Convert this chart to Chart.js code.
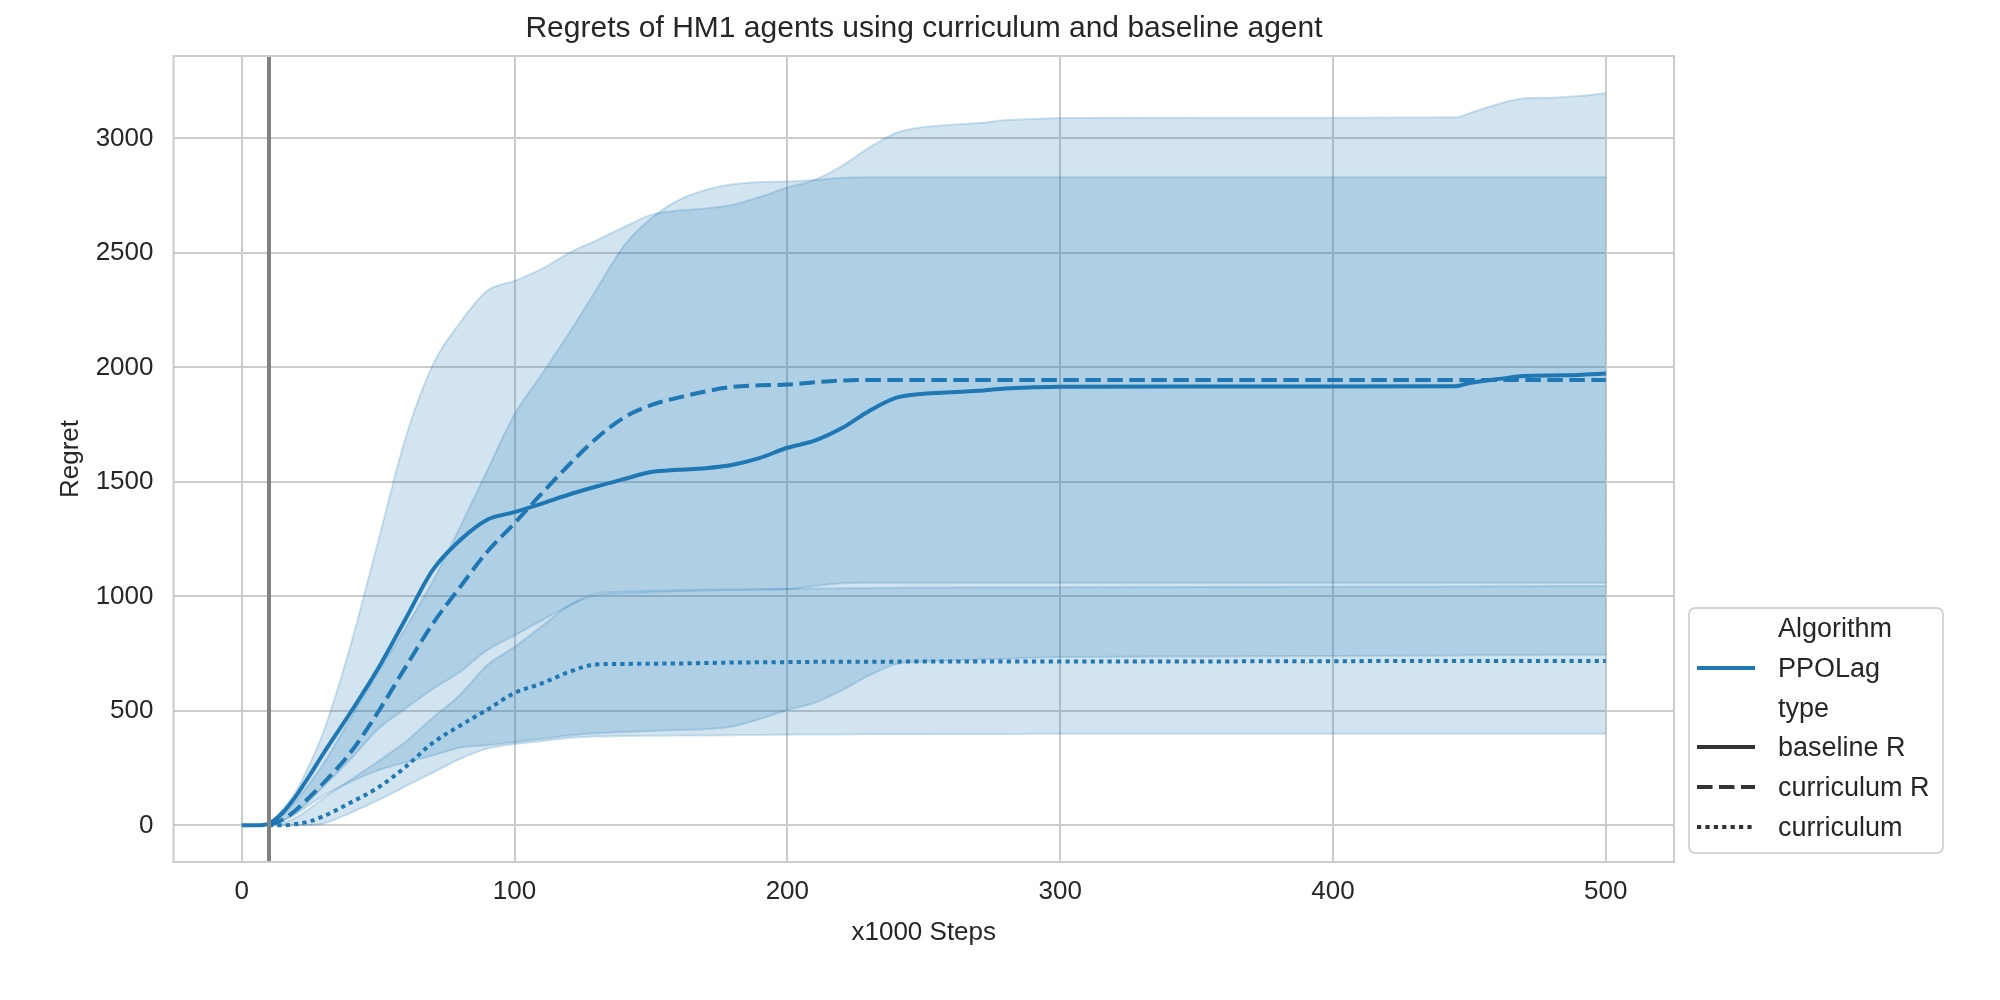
<!DOCTYPE html>
<html>
<head>
<meta charset="utf-8">
<script src="https://cdn.jsdelivr.net/npm/chart.js@4.4.0/dist/chart.umd.min.js"></script>
<style>
  body{margin:0;background:#fff;font-family:"Liberation Sans",Arial,sans-serif;}
  #wrap{position:relative;width:2000px;height:1000px;}
  #title{position:absolute;left:924px;top:27px;transform:translate(-50%,-50%);font-size:30px;color:#262626;white-space:nowrap;}
  #legend{position:absolute;left:1688px;top:607px;width:256px;height:247px;box-sizing:border-box;border:2px solid #d4d4d4;border-radius:7px;background:rgba(255,255,255,.8);}
  .row{position:absolute;left:0;width:100%;height:40px;transform:translateY(-50%);}
  .row svg{position:absolute;left:7px;top:15px;}
  .row span{position:absolute;left:88px;top:50%;transform:translateY(-50%);font-size:27px;color:#262626;white-space:nowrap;}
</style>
</head>
<body>
<div id="wrap">
  <canvas id="chart" width="2000" height="1000"></canvas>
  <div id="title">Regrets of HM1 agents using curriculum and baseline agent</div>
  <div id="legend"></div>
</div>
<script>
// x positions (x1000 steps)
const steps = [0,5,10,15,20,25,30,40,50,60,70,80,90,100,110,120,130,140,150,160,170,180,190,200,210,220,230,240,250,260,270,280,290,300,350,400,445,450,460,470,480,490,500];

// baseline R (solid) mean and band
const baselineR     = [0,0,8,55,130,220,315,495,685,900,1115,1245,1335,1368,1405,1445,1480,1512,1543,1553,1560,1575,1605,1649,1680,1735,1810,1868,1885,1891,1898,1908,1913,1916,1917,1917,1918,1932,1948,1962,1965,1967,1973];
const baselineRLow  = [0,0,5,20,50,90,130,190,240,275,305,340,350,364,378,392,402,408,412,416,420,432,465,503,535,590,655,705,716,720,724,728,732,735,738,740,742,743,744,744,745,745,745];
const baselineRHigh = [0,0,10,70,150,270,410,790,1240,1690,2010,2195,2335,2378,2430,2500,2555,2612,2666,2685,2694,2710,2745,2786,2819,2880,2960,3025,3050,3060,3067,3080,3085,3089,3090,3090,3092,3110,3148,3175,3178,3185,3198];

// curriculum R (dashed) mean and band
const curriculumR     = [null,null,2,25,68,125,185,320,495,690,880,1040,1195,1320,1450,1575,1690,1780,1835,1868,1895,1915,1922,1925,1935,1943,1945,1945,1945,1945,1945,1945,1945,1945,1945,1945,1945,1945,1945,1945,1945,1945,1945];
const curriculumRLow  = [null,null,0,20,55,110,170,290,420,510,595,670,765,830,895,960,1012,1020,1024,1027,1029,1030,1031,1032,1045,1057,1060,1060,1060,1060,1060,1060,1060,1060,1060,1060,1060,1060,1060,1060,1060,1060,1060];
const curriculumRHigh = [null,null,5,45,110,185,270,470,670,862,1065,1302,1550,1795,1970,2150,2340,2530,2650,2730,2775,2800,2810,2812,2818,2828,2830,2830,2830,2830,2830,2830,2830,2830,2830,2830,2830,2830,2830,2830,2830,2830,2830];

// curriculum (dotted) mean and band
const curriculum     = [null,null,0,0,6,18,40,100,165,255,360,435,505,578,620,670,703,705,706,707,709,711,712,713,714,714,715,715,716,716,716,716,716,716,716,717,718,718,718,718,718,718,718];
const curriculumLow  = [null,null,0,0,0,2,8,55,110,170,230,290,335,355,368,382,388,390,391,392,393,394,395,396,397,397,398,398,398,399,399,399,400,400,400,400,400,400,400,400,400,400,400];
const curriculumHigh = [null,null,0,10,35,75,120,200,280,365,470,570,700,780,870,960,1005,1015,1020,1023,1026,1028,1030,1032,1034,1036,1037,1038,1039,1039,1040,1040,1040,1040,1041,1042,1043,1043,1044,1044,1045,1045,1045];

const xTicks = [0,100,200,300,400,500];
const yTicks = [0,500,1000,1500,2000,2500,3000];
const xRange = [-25,525];
const yRange = [-160,3360];
const markerStep = 10;

const seriesNames = ['baseline R','curriculum R','curriculum'];
const legendTitles = ['Algorithm','type'];
const algorithmName = 'PPOLag';

const FONT = '"Liberation Sans", Arial, sans-serif';
const INK = '#262626';
const BLUE = '#1f77b4';
const BAND = 'rgba(31,119,180,0.2)';
const dashes = [[], [15.5,6.5], [4.2,4.2]];

const pts = arr => steps.map((x,i)=>({x, y: arr[i]}));

const mean = (label, arr, dash, order) => ({
  label, data: pts(arr), borderColor: BLUE, borderWidth: 4, borderDash: dash,
  pointRadius: 0, fill: false, cubicInterpolationMode: 'monotone', order
});
const edge = (arr, fillTo, order) => ({
  data: pts(arr), borderColor: BAND, borderWidth: 2, pointRadius: 0,
  backgroundColor: BAND, fill: fillTo === null ? false : fillTo,
  cubicInterpolationMode: 'monotone', order
});

const datasets = [
  {label:'start', data:[{x:markerStep,y:yRange[0]},{x:markerStep,y:yRange[1]}], borderColor:'#808080', borderWidth:4, pointRadius:0, order:0},
  mean(seriesNames[0], baselineR, dashes[0], 1),
  mean(seriesNames[1], curriculumR, dashes[1], 2),
  mean(seriesNames[2], curriculum, dashes[2], 3),
  edge(baselineRLow, null, 10),      // 4
  edge(baselineRHigh, 4, 11),        // 5
  edge(curriculumRLow, null, 12),    // 6
  edge(curriculumRHigh, 6, 13),      // 7
  edge(curriculumLow, null, 14),     // 8
  edge(curriculumHigh, 8, 15)        // 9
];

const frame = {
  id: 'frame',
  afterDraw(chart){
    const {ctx, chartArea: a} = chart;
    ctx.save();
    ctx.strokeStyle = '#cccccc'; ctx.lineWidth = 2;
    ctx.strokeRect(a.left, a.top, a.right - a.left, a.bottom - a.top);
    ctx.restore();
  }
};

new Chart(document.getElementById('chart'), {
  type: 'line',
  data: { datasets },
  plugins: [frame],
  options: {
    responsive: false, animation: false, devicePixelRatio: 1,
    layout: { padding: { top: 56, right: 326, left: 0, bottom: 0 } },
    plugins: { legend: { display: false }, tooltip: { enabled: false } },
    scales: {
      x: {
        type: 'linear', min: xRange[0], max: xRange[1],
        afterBuildTicks: s => { s.ticks = xTicks.map(v => ({value: v})); },
        afterFit: s => { s.height = 138; },
        grid: { color: '#cccccc', lineWidth: 2, drawTicks: false },
        border: { display: false },
        ticks: { padding: 14, color: INK, font: { size: 26, family: FONT }, callback: v => String(v) },
        title: { display: true, text: 'x1000 Steps', color: INK, font: { size: 26, family: FONT }, padding: { top: 0, bottom: 52 } }
      },
      y: {
        type: 'linear', min: yRange[0], max: yRange[1],
        afterBuildTicks: s => { s.ticks = yTicks.map(v => ({value: v})); },
        afterFit: s => { s.width = 173.5; },
        grid: { color: '#cccccc', lineWidth: 2, drawTicks: false },
        border: { display: false },
        ticks: { padding: 20, color: INK, font: { size: 26, family: FONT }, callback: v => String(v) },
        title: { display: true, text: 'Regret', color: INK, font: { size: 26, family: FONT }, padding: { top: 55, bottom: 0 } }
      }
    }
  }
});

// legend (seaborn style: titles as blank-handle rows)
const legendRows = [
  { text: legendTitles[0] },
  { text: algorithmName, color: BLUE, dash: [] },
  { text: legendTitles[1] },
  { text: seriesNames[0], color: '#333333', dash: dashes[0] },
  { text: seriesNames[1], color: '#333333', dash: dashes[1] },
  { text: seriesNames[2], color: '#333333', dash: dashes[2] }
];
const lg = document.getElementById('legend');
legendRows.forEach((r, i) => {
  const row = document.createElement('div');
  row.className = 'row';
  row.style.top = (19 + i * 39.8) + 'px';
  let h = '';
  if (r.color) {
    h += `<svg width="60" height="10"><line x1="0" y1="5" x2="58" y2="5" stroke="${r.color}" stroke-width="4" stroke-dasharray="${r.dash.join(' ')}"/></svg>`;
  }
  h += `<span>${r.text}</span>`;
  row.innerHTML = h;
  lg.appendChild(row);
});
</script>
</body>
</html>
